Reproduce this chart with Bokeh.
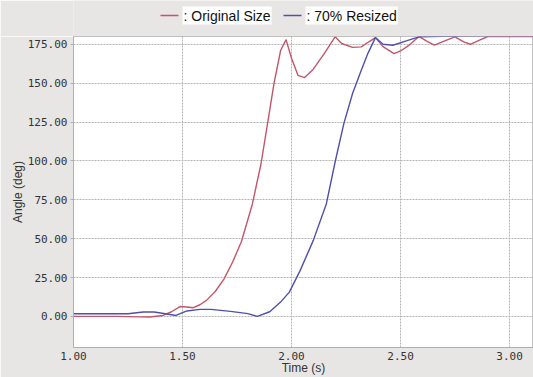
from bokeh.plotting import figure
from bokeh.layouts import column
from bokeh.models import Range1d, FixedTicker, PrintfTickFormatter
from bokeh.core.properties import value
from bokeh.embed import file_html
from bokeh.resources import INLINE

# ---- data ----
orig_t = [1.00, 1.20, 1.30, 1.35, 1.41, 1.45, 1.49, 1.52, 1.55, 1.58, 1.61, 1.65, 1.69, 1.73,
          1.77, 1.82, 1.86, 1.89, 1.92, 1.95, 1.975, 2.00, 2.03, 2.06, 2.10, 2.15, 2.20, 2.23,
          2.28, 2.32, 2.355, 2.385, 2.42, 2.47, 2.50, 2.54, 2.585, 2.62, 2.655, 2.70, 2.75,
          2.79, 2.82, 2.86, 2.90, 3.00, 3.11]
orig_angle = [0, 0, -0.3, -0.4, 0.6, 3, 6.4, 6, 5.6, 7.5, 10.3, 16, 24, 35,
              48, 72, 98, 124, 150, 171, 178, 166, 155, 153.6, 159, 169, 179.8, 175.5,
              173, 173.3, 176.6, 179.3, 173.5, 169, 170.7, 174.5, 180, 177, 174.4, 177, 179.8,
              176.5, 175, 177.5, 180, 180, 180]

resized_t = [1.00, 1.25, 1.32, 1.37, 1.40, 1.47, 1.52, 1.58, 1.63, 1.72, 1.80, 1.843, 1.90,
             1.95, 1.99, 2.04, 2.10, 2.16, 2.20, 2.24, 2.28, 2.32, 2.35, 2.385, 2.42, 2.465,
             2.53, 2.585, 2.70, 2.90, 3.11]
resized_angle = [1.7, 1.7, 2.8, 2.8, 2.2, 0.6, 3.5, 4.5, 4.5, 3.2, 1.8, 0, 3,
                 9.2, 15.6, 29.6, 48.9, 72.5, 99.3, 124, 143.3, 158.3, 169, 179.3, 175, 174.4,
                 177.3, 179.8, 180.2, 180.5, 180.5]

x_ticks = [1.0, 1.5, 2.0, 2.5, 3.0]
y_ticks = [0, 25, 50, 75, 100, 125, 150, 175]

labels = [": Original Size", ": 70% Resized"]
colors = ["#c4566a", "#4f4fae"]

BG = "#e8e6e4"
TXT = "#333333"
W = 533
LEFT = 73

# ---- legend strip (pixel coordinates; frame aligned with main plot frame) ----
leg = figure(width=W, height=36, output_backend="svg", toolbar_location=None,
             x_range=Range1d(LEFT, W), y_range=Range1d(0, 36),
             min_border=0, x_axis_type=None, y_axis_type=None)
leg.grid.visible = False
leg.outline_line_color = None
leg.background_fill_color = BG
leg.border_fill_color = BG
leg_x = [160, 283]      # layout positions of the legend entries
leg_y = 21
for lx, lab, col in zip(leg_x, labels, colors):
    leg.segment(x0=[lx], y0=[leg_y], x1=[lx + 18], y1=[leg_y], line_color=col, line_width=1.4)
    leg.text(x=[lx + 22], y=[leg_y], text=[lab], text_font=value("Liberation Sans"),
             text_font_size="14px", text_color="#111111", text_baseline="middle",
             background_fill_color="white", padding=1)

# ---- main plot ----
p = figure(width=W, height=341, output_backend="svg", toolbar_location=None,
           x_range=Range1d(1.0, 3.11), y_range=Range1d(-20, 180),
           min_border_left=LEFT, min_border_right=0, min_border_top=0, min_border_bottom=30)

p.background_fill_color = "white"
p.border_fill_color = BG
p.outline_line_color = "#c0c0c0"

p.line(orig_t, orig_angle, line_color=colors[0], line_width=1.4)
p.line(resized_t, resized_angle, line_color=colors[1], line_width=1.4)

p.xaxis.ticker = FixedTicker(ticks=x_ticks)
p.yaxis.ticker = FixedTicker(ticks=y_ticks)
p.xaxis.formatter = PrintfTickFormatter(format="%.2f")
p.yaxis.formatter = PrintfTickFormatter(format="%.2f")

for ax in (p.xaxis, p.yaxis):
    ax.axis_line_color = "#b0b0b0"
    ax.major_tick_line_color = "#b0b0b0"
    ax.major_tick_in = 0
    ax.minor_tick_line_color = None
    ax.major_label_text_font = "DejaVu Sans Mono"
    ax.major_label_text_font_size = "11px"
    ax.major_label_text_color = TXT
    ax.axis_label_text_font = "Liberation Sans"
    ax.axis_label_text_font_size = "12px"
    ax.axis_label_text_font_style = "normal"
    ax.axis_label_text_color = TXT

p.yaxis.major_tick_out = 3
p.yaxis.major_label_standoff = 3
p.yaxis.axis_label_standoff = 0
p.xaxis.major_tick_out = 0
p.xaxis.major_label_standoff = 4
p.xaxis.axis_label_standoff = -2

p.xaxis.axis_label = "Time (s)"
p.yaxis.axis_label = "Angle (deg)"

p.xgrid.grid_line_color = "#b4b4b4"
p.xgrid.grid_line_dash = "2 1"
p.ygrid.grid_line_color = "#b4b4b4"
p.ygrid.grid_line_dash = "2 1"

layout = column(leg, p, spacing=0)
open("out.html", "w").write(file_html(layout, INLINE))
